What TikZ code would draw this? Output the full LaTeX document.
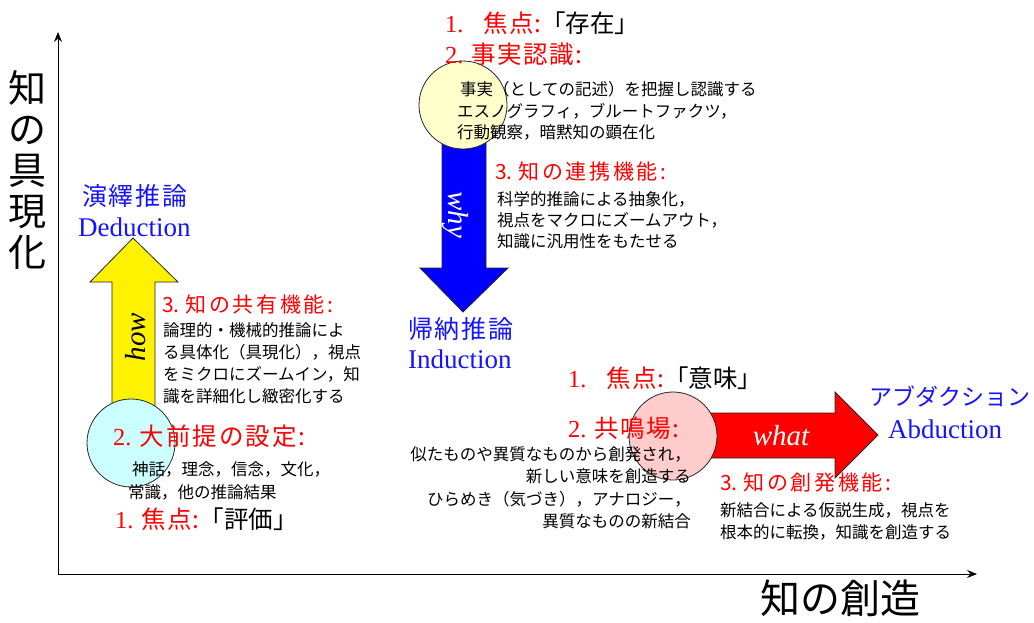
\documentclass[tikz,border=0pt]{standalone}
\usepackage{fontspec}
\setmainfont{Noto Sans CJK JP}
\newfontfamily\tms{Liberation Serif}
\newcommand\lsp[2]{{\addfontfeatures{LetterSpace=#1}#2}}
\usetikzlibrary{arrows.meta}
\definecolor{hred}{RGB}{255,0,0}
\definecolor{hblue}{RGB}{20,20,255}
\definecolor{cyanfill}{RGB}{204,255,255}
\definecolor{yelfill}{RGB}{255,255,204}
\definecolor{pinkfill}{RGB}{255,204,204}
\begin{document}
\begin{tikzpicture}[x=1pt,y=-1pt,
  body/.style={anchor=base west, inner sep=0pt, text=black, font=\fontsize{16.5}{20}\selectfont},
  bodyr/.style={body, anchor=base east},
  headL/.style={anchor=base west, inner sep=0pt, text=hred, font=\fontsize{24.5}{28}\selectfont},
  headS/.style={anchor=base west, inner sep=0pt, text=hred, font=\fontsize{21}{24}\selectfont},
  bluejp/.style={anchor=base west, inner sep=0pt, text=hblue, font=\fontsize{25}{28}\selectfont},
  blueen/.style={anchor=base west, inner sep=0pt, text=hblue, font=\tms\fontsize{27}{30}\selectfont},
  arrowshape/.style={draw=black!85, line width=0.8pt, line join=miter},
  bubble/.style={circle, draw=black!85, line width=0.8pt, minimum size=88pt, inner sep=0pt},
  wordit/.style={inner sep=0pt, font=\tms\itshape\fontsize{29}{32}\selectfont},
  axis/.style={line width=0.9pt, -{Stealth[length=10pt,width=8pt,inset=3.5pt]}},
  axlabel/.style={inner sep=0pt, text=black}
]
\useasboundingbox (0,0) rectangle (1034,622);

% axes
\coordinate (O) at (58,574);
\coordinate (ytip) at (58,32);
\coordinate (xtip) at (977,574);
\draw[axis] (O) -- (ytip);
\draw[axis] (O) -- (xtip);
\node[axlabel, align=center, font=\fontsize{38}{41}\selectfont] (ylab) at (28,170) {知\\の\\具\\現\\化};
\node[axlabel, font=\fontsize{40}{44}\selectfont] (xlab) at (840,598) {知の創造};

% ---------------- left: deduction ----------------
\fill[yellow, arrowshape] (112,425) -- (112,282) -- (90,282) -- (133,238) -- (178,282) -- (155,282) -- (155,425) -- cycle;
\node[wordit, rotate=90] (how) at (136,337) {how};
\node[bubble, fill=cyanfill] (cL) at (131,443) {};

\node[bluejp] (dedjp) at (82,205) {\lsp{7}{演繹推論}};
\node[blueen] (deden) at (78,236) {Deduction};

\node[headS] (l3) at (162,312) {3. \lsp{12}{知の共有機能:}};
\node[body] (l3a) at (163,336) {論理的・機械的推論によ};
\node[body] (l3b) at (163,358) {る具体化（具現化），視点};
\node[body] (l3c) at (163,380) {をミクロにズームイン，知};
\node[body] (l3d) at (163,402) {識を詳細化し緻密化する};

\node[headL] (l2) at (113,445) {{\tms 2. }\lsp{8}{大前提の設定:}};
\node[body] (l2a) at (132,475) {神話，理念，信念，文化，};
\node[body] (l2b) at (128,498) {常識，他の推論結果};
\node[headL] (l1) at (115,528) {{\tms 1. }\lsp{4}{焦点:}\textcolor{black}{「評価」}};

% ---------------- middle: induction ----------------
\fill[blue, arrowshape] (442,130) -- (442,268) -- (420,268) -- (463,312) -- (508,268) -- (486,268) -- (486,130) -- cycle;
\node[wordit, rotate=-90, text=white] (why) at (455,215) {why};
\node[bubble, fill=yelfill] (cM) at (463,105) {};

\node[headL] (m1) at (445,32) {{\tms 1.}\hspace{20pt}\lsp{4}{焦点:}\textcolor{black}{「存在」}};
\node[headL] (m2) at (445,63) {{\tms 2. }\lsp{6}{事実認識:}};
\node[body] (m2a) at (460,95) {事実（としての記述）を把握し認識する};
\node[body] (m2b) at (457,117) {エスノグラフィ，ブルートファクツ，};
\node[body] (m2c) at (457,138) {行動観察，暗黙知の顕在化};

\node[headS] (m3) at (495,179) {3. \lsp{12}{知の連携機能:}};
\node[body] (m3a) at (497,205) {科学的推論による抽象化，};
\node[body] (m3b) at (497,226) {視点をマクロにズームアウト，};
\node[body] (m3c) at (497,247) {知識に汎用性をもたせる};

\node[bluejp] (indjp) at (408,338) {\lsp{7}{帰納推論}};
\node[blueen] (inden) at (408,368) {Induction};

% ---------------- right: abduction ----------------
\fill[red, arrowshape] (660,413) -- (835,413) -- (835,392) -- (878,435) -- (835,478) -- (835,458) -- (660,458) -- cycle;
\node[wordit, text=white, anchor=base] (what) at (781,445) {what};
\node[bubble, fill=pinkfill] (cR) at (673,436) {};

\node[headL] (r1) at (568,387) {{\tms 1.}\hspace{20pt}\lsp{4}{焦点:}\textcolor{black}{「意味」}};
\node[headL] (r2) at (568,437) {{\tms 2. }\lsp{6}{共鳴場:}};
\node[bodyr] (r2a) at (691,460) {似たものや異質なものから創発され，};
\node[bodyr] (r2b) at (691,482) {新しい意味を創造する};
\node[bodyr] (r2c) at (691,505) {ひらめき（気づき），アナロジー，};
\node[bodyr] (r2d) at (691,527) {異質なものの新結合};

\node[bluejp, font=\fontsize{23}{28}\selectfont] (abdjp) at (869,405) {アブダクション};
\node[blueen] (abden) at (888,438) {Abduction};

\node[headS] (r3) at (720,490) {3. \lsp{12}{知の創発機能:}};
\node[body] (r3a) at (720,516) {新結合による仮説生成，視点を};
\node[body] (r3b) at (720,538) {根本的に転換，知識を創造する};
\end{tikzpicture}
\end{document}
